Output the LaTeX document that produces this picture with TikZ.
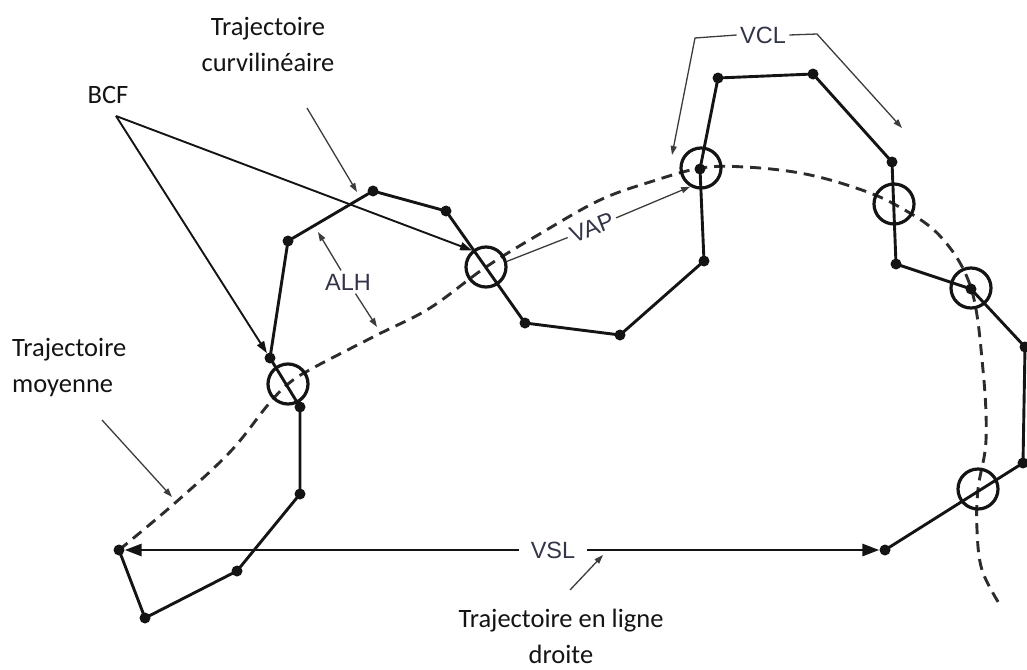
\documentclass[tikz,border=0pt]{standalone}
\usepackage{fontspec}
\setmainfont{Carlito}
\newfontfamily\arialf{Liberation Sans}
\usetikzlibrary{arrows.meta}
\definecolor{ink}{RGB}{20,20,20}
\definecolor{lbl}{RGB}{50,52,72}
\definecolor{ptrc}{RGB}{60,60,60}
\begin{document}
\begin{tikzpicture}[x=1pt,y=-1pt,
  dot/.style={circle,fill=ink,inner sep=0pt,minimum size=11pt},
  ring/.style={circle,draw=ink,line width=3.2pt,inner sep=0pt,minimum size=40pt},
  traj/.style={draw=ink,line width=2.9pt,line join=round},
  meanpath/.style={draw=ink!90,line width=2.9pt,dash pattern=on 11pt off 7pt},
  ptrline/.style={draw=ptrc,line width=1.3pt},
  ptr/.style={ptrline,-{Triangle[length=9pt,width=6pt]}},
  bcfarrow/.style={draw=ink,line width=1.9pt,-{Triangle[length=12pt,width=8pt]}},
  vslarrow/.style={draw=ink,line width=2.9pt,-{Triangle[length=17pt,width=12pt]}},
  cal/.style={font=\fontsize{26.5}{36}\selectfont,text=ink,inner sep=0pt},
  sans/.style={font=\arialf\fontsize{23.5}{28}\selectfont,text=lbl},
]
\useasboundingbox (0,0) rectangle (1027,669);

% mean trajectory (dashed)
\draw[meanpath] plot[smooth, tension=0.6] coordinates {(119,550) (175,503) (230,452) (267,406) (288,384) (313,368) (377,335) (430,308) (486,267) (543,232) (600,200) (650,182) (701,168) (745,167) (800,173) (850,186) (894,204) (940,236) (971,288) (983,370) (986,440) (978,489) (977,530) (982,570) (1000,605)};

% trajectory points
\node[dot] (p1) at (119,550) {};
\node[dot] (p2) at (145,618) {};
\node[dot] (p3) at (237,571) {};
\node[dot] (p4) at (300,494) {};
\node[dot] (p5) at (300,407) {};
\node[dot] (p6) at (270,358) {};
\node[dot] (p7) at (288,241) {};
\node[dot] (p8) at (373,191) {};
\node[dot] (p9) at (446,211) {};
\node[dot] (p10) at (525,323) {};
\node[dot] (p11) at (620,335) {};
\node[dot] (p12) at (704,261) {};
\node[dot] (p13) at (700,169) {};
\node[dot] (p14) at (718,78) {};
\node[dot] (p15) at (813,74) {};
\node[dot] (p16) at (892,162) {};
\node[dot] (p17) at (896,264) {};
\node[dot] (p18) at (971,289) {};
\node[dot] (p19) at (1025,347) {};
\node[dot] (p20) at (1023,463) {};
\node[dot] (p21) at (885,550) {};

\draw[traj] (p1.center) -- (p2.center) -- (p3.center) -- (p4.center) -- (p5.center) -- (p6.center) -- (p7.center) -- (p8.center) -- (p9.center) -- (p10.center) -- (p11.center) -- (p12.center) -- (p13.center) -- (p14.center) -- (p15.center) -- (p16.center) -- (p17.center) -- (p18.center) -- (p19.center) -- (p20.center) -- (p21.center);

% crossing circles
\node[ring] (c1) at (288,384) {};
\node[ring] (c2) at (486,267) {};
\node[ring] (c3) at (701,168) {};
\node[ring] (c4) at (894,204) {};
\node[ring] (c5) at (971,288) {};
\node[ring] (c6) at (978,489) {};

% VSL
\node[sans, inner xsep=12pt] (vsl) at (553,550) {VSL};
\draw[vslarrow] (vsl) -- (p1);
\draw[vslarrow] (vsl) -- (p21);

% BCF
\node[cal] (bcf) at (108,95) {BCF};
\coordinate (bcfo) at (116,116);
\draw[bcfarrow] (bcfo) -- (c2.130);
\draw[bcfarrow] (bcfo) -- (p6);

% Trajectoire curvilineaire
\node[cal, align=center] (tcurv) at (268,44) {Trajectoire\\curvilinéaire};
\coordinate (tc1) at (307,108);
\coordinate (tc2) at (357,192);
\draw[ptr] (tc1) -- (tc2);

% ALH
\node[sans] (alh) at (348,282) {ALH};
\coordinate (alh1) at (318,232);
\coordinate (alh2) at (377,327);
\draw[ptr] (alh) -- (alh1);
\draw[ptr] (alh) -- (alh2);

% VAP
\node[sans, rotate=21.5] (vap) at (592,228) {VAP};
\draw[ptrline] (c2.15) -- (vap);
\draw[ptr] (vap) -- (c3.240);

% VCL
\node[sans] (vcl) at (763,35) {VCL};
\coordinate (vclL) at (695,38);
\coordinate (vclLe) at (672,155);
\coordinate (vclR) at (817,34);
\coordinate (vclRe) at (902,128);
\draw[ptr] (vcl.west) -- (vclL) -- (vclLe);
\draw[ptr] (vcl.east) -- (vclR) -- (vclRe);

% Trajectoire moyenne
\node[cal, align=left, anchor=west] (tmoy) at (12,368) {Trajectoire\\moyenne};
\coordinate (tm1) at (102,420);
\coordinate (tm2) at (172,497);
\draw[ptr] (tm1) -- (tm2);

% Trajectoire en ligne droite
\node[cal, align=center] (tdroite) at (561,636) {Trajectoire en ligne\\droite};
\coordinate (td1) at (570,590);
\coordinate (td2) at (603,555);
\draw[ptr] (td1) -- (td2);
\end{tikzpicture}
\end{document}
